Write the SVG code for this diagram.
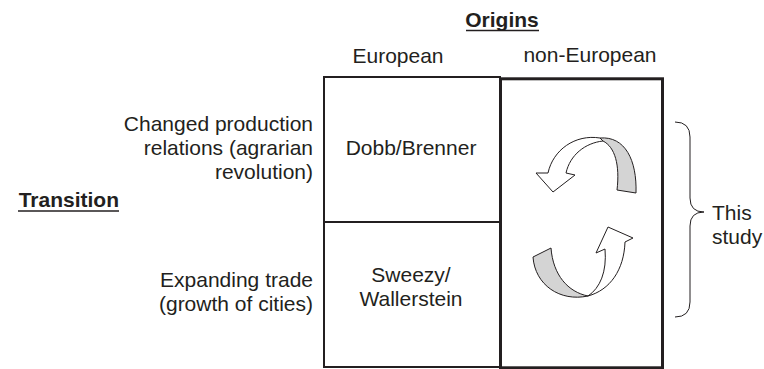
<svg xmlns="http://www.w3.org/2000/svg" width="764" height="369" viewBox="0 0 764 369">
<style>
text{font-family:"Liberation Sans",Arial,sans-serif;font-size:21px;fill:#231f20}
.b{font-weight:bold}
.e{text-anchor:end}
.m{text-anchor:middle}
.ln{stroke:#231f20;fill:none}
.arw{stroke:#231f20;stroke-width:1;stroke-linejoin:round}
.g{fill:#d4d4d4}
.w{fill:#fff}
</style>
<rect width="764" height="369" fill="#fff"/>
<g id="headers">
<text class="b m" x="502" y="27">Origins</text>
<line class="ln" x1="466" y1="30.5" x2="539" y2="30.5" stroke-width="1.5"/>
<text class="m" x="398" y="63">European</text>
<text class="m" x="590" y="62">non-European</text>
<text class="b e" x="119" y="207">Transition</text>
<line class="ln" x1="18" y1="211" x2="119" y2="211" stroke-width="1.5"/>
</g>
<g id="row-labels">
<text class="e" x="313" y="131">Changed production</text>
<text class="e" x="313" y="155">relations (agrarian</text>
<text class="e" x="313" y="179">revolution)</text>
<text class="e" x="313" y="287">Expanding trade</text>
<text class="e" x="313" y="311">(growth of cities)</text>
</g>
<g id="european-box">
<rect class="ln" x="324" y="77" width="176" height="290" stroke-width="2"/>
<line class="ln" x1="324" y1="222" x2="500" y2="222" stroke-width="2"/>
</g>
<g id="dobb-brenner"><text class="m" x="411" y="155">Dobb/Brenner</text></g>
<g id="sweezy-wallerstein">
<text class="m" x="411" y="282">Sweezy/</text>
<text class="m" x="411" y="306">Wallerstein</text>
</g>
<g id="non-european-box">
<rect class="ln" x="500.5" y="78.8" width="162" height="289" stroke-width="3"/>
</g>
<g id="cycle-top">
<path class="arw g" d="M600,138 C625,136 637,160 636,193 L617,190 C620,165 615,147 603,141 Z"/>
<path class="arw w" d="M600,138 C575,134 553,150 548,173 L536,173 L553,192 L575,175 L566,173 C570,155 585,143 603,141 Z"/>
</g>
<g id="cycle-bottom">
<path class="arw g" d="M533,257 L551,248 C553,275 568,292 588,296 C560,302 535,285 533,257 Z"/>
<path class="arw w" d="M588,296 C610,290 624,270 625,242 L633,238 L608,227 L596,253 L605,249 C607,272 600,288 588,296 Z"/>
</g>
<g id="connectors">
<path class="ln" stroke-width="1" d="M675,122 Q690,122 690,137 L690,198 Q690,212 704,212 Q690,212 690,226 L690,302 Q690,317 675,317"/>
</g>
<g id="this-study">
<text x="712" y="220">This</text>
<text x="712" y="244">study</text>
</g>
</svg>
